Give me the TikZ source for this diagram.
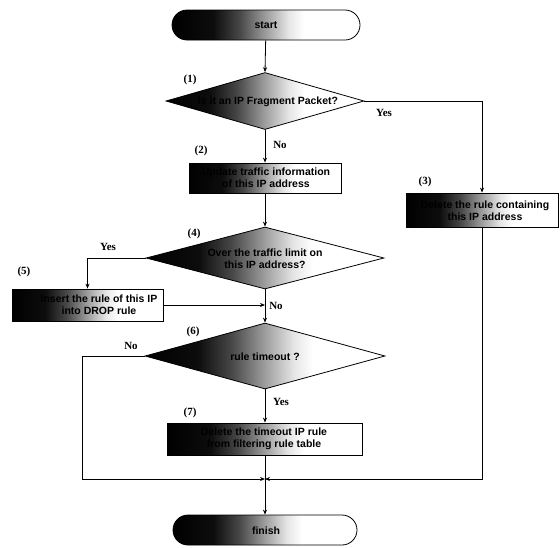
\documentclass[tikz,border=0pt]{standalone}
\usepackage{fontspec}
\setmainfont{Liberation Sans}
\newfontfamily\lblfont{Liberation Serif}
\usetikzlibrary{shapes.geometric,arrows.meta,calc}
\pgfdeclarehorizontalshading{fadeR}{100bp}{color(0bp)=(black); color(25bp)=(black); color(36bp)=(black!95); color(43bp)=(black!72); color(50bp)=(black!38); color(56bp)=(black!10); color(60bp)=(white); color(100bp)=(white)}
\begin{document}
\begin{tikzpicture}[x=1pt,y=-1pt,line width=0.8pt,
  term/.style={rectangle, rounded corners=15pt, draw, shade, shading=fadeR, minimum height=30pt, inner sep=0pt},
  proc/.style={rectangle, draw, shade, shading=fadeR, inner sep=0pt},
  dec/.style={diamond, draw, shade, shading=fadeR, inner sep=0pt},
  txt/.style={font=\fontsize{10.5}{12}\selectfont\bfseries, align=center, inner sep=0pt, text=black},
  lbl/.style={font=\lblfont\fontsize{11}{12}\selectfont\bfseries, inner sep=0pt},
  arr/.style={-{Stealth[length=5pt,width=4pt]}}]
\useasboundingbox (0,0) rectangle (560,547);

% shapes
\node[term, minimum width=188pt] (start) at (266,25) {};
\node[txt] (startt) at (266,25) {start};

\node[dec, minimum width=198pt, minimum height=57pt] (d1) at (265,101) {};
\node[txt] (d1t) at (268,102) {Is it an IP Fragment Packet?};

\node[proc, minimum width=152pt, minimum height=30pt] (b2) at (265,178) {};
\node[txt] (b2t) at (266,178) {Update traffic information\\of this IP address};

\node[proc, minimum width=152pt, minimum height=34pt] (b3) at (482,210) {};
\node[txt] (b3t) at (485,211) {Delete the rule containing\\this IP address};

\node[dec, minimum width=238pt, minimum height=62pt] (d4) at (265,258) {};
\node[txt] (d4t) at (265,259) {Over the traffic limit on\\this IP address?};

\node[proc, minimum width=151pt, minimum height=32pt] (b5) at (87.5,305) {};
\node[txt] (b5t) at (99,305) {Insert the rule of this IP\\into DROP rule};

\node[dec, minimum width=240pt, minimum height=66pt] (d6) at (265,356) {};
\node[txt] (d6t) at (265,357) {rule timeout ?};

\node[proc, minimum width=195pt, minimum height=32pt] (b7) at (265,439) {};
\node[txt] (b7t) at (264,439) {Delete the timeout IP rule\\from filtering rule table};

\node[term, minimum width=184pt] (finish) at (265,530) {};
\node[txt] (finisht) at (266,531) {finish};

% helper coordinates
\coordinate (j2) at (265,479);
\coordinate (jl) at (82,479);
\coordinate (ld) at (82,356);

% connectors
\draw[arr] (start) -- (d1.north);
\draw[arr] (d1.east) -| (b3.north);
\draw[arr] (d1.south) -- (b2.north);
\draw[arr] (b2.south) -- (d4.north);
\draw[arr] (d4.west) -| (b5.north);
\draw[arr] (b5.east) -- (b5.east -| d4.south);
\draw[arr] (d4.south) -- (d6.north);
\draw (d6.west) -- (ld) -- (jl);
\draw[arr] (jl) -- (j2);
\draw[arr] (b3.south) |- (j2);
\draw[arr] (d6.south) -- (b7.north);
\draw[arr] (b7.south) -- (finish.north);

% labels
\node[lbl] (l1) at (190,80) {(1)};
\node[lbl] (l2) at (201,151) {(2)};
\node[lbl] (l3) at (425,182) {(3)};
\node[lbl] (l4) at (194,234) {(4)};
\node[lbl] (l5) at (24,272) {(5)};
\node[lbl] (l6) at (193,332) {(6)};
\node[lbl] (l7) at (190,413) {(7)};
\node[lbl] (y1) at (384,113) {Yes};
\node[lbl] (n1) at (280,145) {No};
\node[lbl] (y4) at (108,247) {Yes};
\node[lbl] (n4) at (276,306) {No};
\node[lbl] (n6) at (131,346) {No};
\node[lbl] (y6) at (281,402) {Yes};
\end{tikzpicture}
\end{document}
